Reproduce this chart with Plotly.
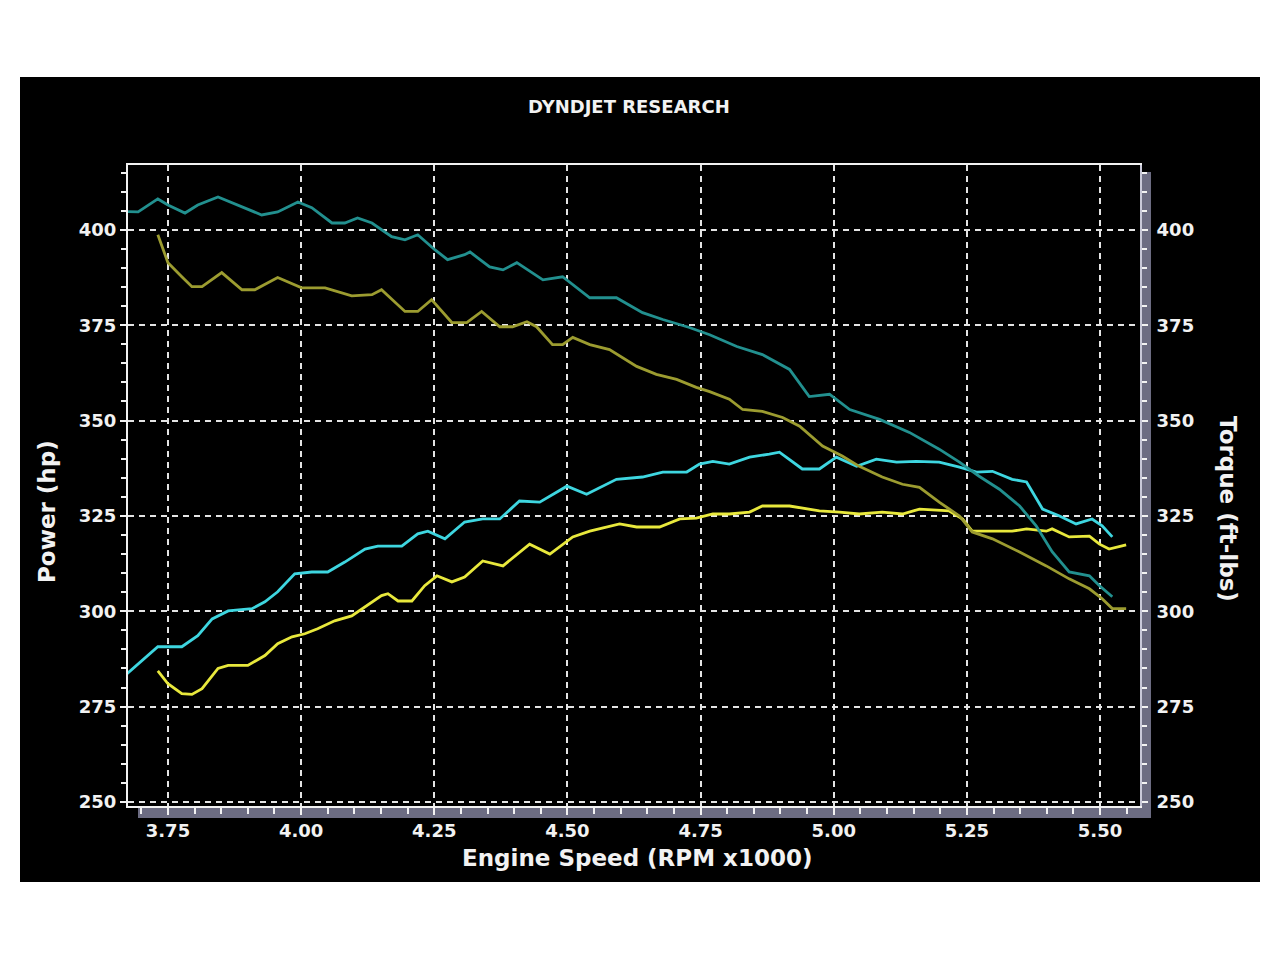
import plotly.graph_objects as go

# ---------------- data ----------------
# Torque run A (dark teal), ft-lbs
tq_a_rpm = [3.669, 3.694, 3.731, 3.750, 3.782, 3.806, 3.844, 3.881, 3.926, 3.956, 3.994, 4.020,
            4.058, 4.082, 4.106, 4.133, 4.170, 4.195, 4.219, 4.251, 4.275, 4.307, 4.317, 4.354,
            4.379, 4.405, 4.454, 4.491, 4.542, 4.592, 4.641, 4.679, 4.729, 4.767, 4.818, 4.866,
            4.917, 4.954, 4.992, 5.030, 5.086, 5.142, 5.198, 5.236, 5.273, 5.311, 5.349, 5.380,
            5.410, 5.442, 5.480, 5.499, 5.523]
tq_a_val = [404.8, 404.7, 408.1, 406.5, 404.4, 406.5, 408.6, 406.5, 403.9, 404.7, 407.3, 405.8,
            401.8, 401.8, 403.1, 401.8, 398.2, 397.4, 398.7, 394.8, 392.2, 393.5, 394.2, 390.3,
            389.5, 391.4, 386.9, 387.7, 382.2, 382.2, 378.3, 376.5, 374.4, 372.5, 369.4, 367.3,
            363.4, 356.3, 356.9, 352.9, 350.3, 346.9, 342.5, 339.1, 335.4, 332.0, 327.6, 322.4,
            315.6, 310.3, 309.3, 306.7, 303.8]

# Torque run B (olive), ft-lbs
tq_b_rpm = [3.731, 3.750, 3.776, 3.795, 3.814, 3.851, 3.889, 3.913, 3.956, 4.001, 4.045, 4.095,
            4.133, 4.151, 4.195, 4.219, 4.245, 4.283, 4.311, 4.339, 4.373, 4.397, 4.424, 4.442,
            4.472, 4.491, 4.510, 4.542, 4.579, 4.630, 4.667, 4.705, 4.742, 4.767, 4.804, 4.829,
            4.866, 4.904, 4.936, 4.979, 5.016, 5.048, 5.091, 5.129, 5.161, 5.198, 5.236, 5.260,
            5.298, 5.348, 5.399, 5.442, 5.480, 5.504, 5.523, 5.549]
tq_b_val = [398.7, 391.4, 387.7, 385.1, 385.1, 388.8, 384.3, 384.3, 387.5, 384.8, 384.8, 382.7,
            383.0, 384.3, 378.6, 378.6, 381.7, 375.7, 375.7, 378.6, 374.6, 374.6, 375.9, 374.6,
            369.9, 369.9, 371.8, 369.9, 368.6, 364.2, 362.1, 360.8, 358.7, 357.6, 355.6, 352.9,
            352.4, 350.8, 348.5, 343.3, 340.7, 338.0, 335.2, 333.3, 332.5, 328.6, 325.0, 320.8,
            319.0, 315.6, 311.9, 308.5, 305.9, 303.3, 300.7, 300.7]

# Power run A (cyan), hp
hp_a_rpm = [3.669, 3.701, 3.731, 3.776, 3.806, 3.833, 3.863, 3.908, 3.932, 3.956, 3.988, 4.020,
            4.050, 4.082, 4.120, 4.144, 4.189, 4.219, 4.238, 4.270, 4.307, 4.341, 4.373, 4.410,
            4.448, 4.499, 4.536, 4.592, 4.641, 4.679, 4.724, 4.748, 4.773, 4.804, 4.842, 4.879,
            4.898, 4.941, 4.973, 5.005, 5.043, 5.080, 5.118, 5.155, 5.198, 5.236, 5.268, 5.298,
            5.335, 5.362, 5.392, 5.424, 5.455, 5.485, 5.504, 5.523]
hp_a_val = [283.1, 287.1, 290.7, 290.7, 293.6, 298.0, 300.1, 300.7, 302.5, 305.1, 309.8, 310.3,
            310.3, 312.9, 316.3, 317.1, 317.1, 320.3, 321.0, 319.0, 323.4, 324.2, 324.2, 328.9,
            328.6, 332.8, 330.7, 334.6, 335.2, 336.5, 336.5, 338.6, 339.3, 338.6, 340.4, 341.2,
            341.7, 337.3, 337.3, 340.4, 338.0, 339.9, 339.1, 339.3, 339.1, 337.8, 336.5, 336.7,
            334.6, 333.9, 326.8, 325.0, 322.9, 324.2, 322.4, 319.5]

# Power run B (yellow), hp
hp_b_rpm = [3.731, 3.750, 3.776, 3.795, 3.814, 3.844, 3.863, 3.900, 3.932, 3.956, 3.983, 4.007,
            4.031, 4.063, 4.095, 4.120, 4.151, 4.163, 4.182, 4.208, 4.232, 4.255, 4.283, 4.307,
            4.341, 4.379, 4.429, 4.467, 4.510, 4.542, 4.598, 4.630, 4.673, 4.711, 4.742, 4.773,
            4.804, 4.842, 4.866, 4.917, 4.973, 5.011, 5.048, 5.091, 5.129, 5.161, 5.217, 5.242,
            5.260, 5.298, 5.335, 5.362, 5.399, 5.410, 5.442, 5.480, 5.499, 5.517, 5.536, 5.549]
hp_b_val = [284.4, 281.0, 278.4, 278.2, 279.7, 285.0, 285.8, 285.8, 288.4, 291.5, 293.3, 294.1,
            295.4, 297.5, 298.8, 301.2, 304.1, 304.6, 302.7, 302.7, 306.7, 309.3, 307.7, 309.0,
            313.2, 311.9, 317.6, 315.0, 319.5, 321.0, 322.9, 322.1, 322.1, 324.2, 324.4, 325.5,
            325.5, 326.0, 327.6, 327.6, 326.3, 326.0, 325.5, 326.0, 325.5, 326.8, 326.3, 324.2,
            321.0, 321.0, 321.0, 321.6, 321.0, 321.6, 319.5, 319.7, 317.6, 316.3, 316.9, 317.4]

x_ticks = [3.75, 4.00, 4.25, 4.50, 4.75, 5.00, 5.25, 5.50]
x_tick_text = ["3.75", "4.00", "4.25", "4.50", "4.75", "5.00", "5.25", "5.50"]
y_ticks = [250, 275, 300, 325, 350, 375, 400]
y_tick_text = ["250", "275", "300", "325", "350", "375", "400"]

# ---------------- figure ----------------
W, H = 1280, 959
L, R, T, B = 128, 1140, 165, 806
pw, ph = R - L, B - T

FONT = "DejaVu Sans"
WHITE = "#f2f2f2"
GRID = "#e4e4e4"
BAND = "#6c6c82"

fig = go.Figure()
fig.add_trace(go.Scatter(x=tq_b_rpm, y=tq_b_val, mode="lines", yaxis="y2",
                         line=dict(color="#9c9c30", width=2.8), name="Torque B"))
fig.add_trace(go.Scatter(x=tq_a_rpm, y=tq_a_val, mode="lines", yaxis="y2",
                         line=dict(color="#22908f", width=2.8), name="Torque A"))
fig.add_trace(go.Scatter(x=hp_b_rpm, y=hp_b_val, mode="lines",
                         line=dict(color="#e8e83c", width=2.8), name="Power B"))
fig.add_trace(go.Scatter(x=hp_a_rpm, y=hp_a_val, mode="lines",
                         line=dict(color="#3ed6e0", width=2.8), name="Power A"))

yr = [248.95, 417.0]
xr = [3.675, 5.575]
tickfont = dict(family=FONT, size=18, color=WHITE, weight="bold")

fig.update_layout(
    width=W, height=H,
    margin=dict(l=L, r=W - R, t=T, b=H - B, pad=0),
    paper_bgcolor="white", plot_bgcolor="black",
    showlegend=False,
    xaxis=dict(range=xr, tickvals=x_ticks, ticktext=x_tick_text, tickfont=tickfont,
               showgrid=True, gridcolor=GRID, gridwidth=2, griddash="6px,5px",
               showline=True, linecolor=WHITE, linewidth=2, mirror=True,
               ticks="outside", ticklen=7, tickwidth=2, tickcolor=WHITE,
               minor=dict(dtick=0.05, ticks="outside", ticklen=6, tickwidth=1.5,
                          tickcolor=WHITE, showgrid=False),
               zeroline=False, fixedrange=True),
    yaxis=dict(range=yr, tickvals=y_ticks, ticktext=y_tick_text, tickfont=tickfont,
               showgrid=True, gridcolor=GRID, gridwidth=2, griddash="6px,5px",
               showline=True, linecolor=WHITE, linewidth=2,
               ticks="outside", ticklen=6, tickwidth=2, tickcolor=WHITE,
               minor=dict(dtick=5, ticks="outside", ticklen=5, tickwidth=1.5,
                          tickcolor=WHITE, showgrid=False),
               zeroline=False, fixedrange=True),
    yaxis2=dict(range=yr, tickvals=y_ticks, ticktext=y_tick_text, tickfont=tickfont,
                overlaying="y", side="right", showgrid=False,
                showline=True, linecolor="#c8c8d8", linewidth=2,
                ticks="outside", ticklen=6, tickwidth=2, tickcolor=WHITE,
                ticklabelstandoff=5,
                minor=dict(dtick=5, ticks="outside", ticklen=5, tickwidth=1.5,
                           tickcolor=WHITE, showgrid=False),
                zeroline=False, fixedrange=True),
)

def px_x(p):
    return (p - L) / pw

def px_y(p):
    return (B - p) / ph

shapes = [
    # black image area
    dict(type="rect", xref="paper", yref="paper", layer="below",
         x0=px_x(20), x1=px_x(1260), y0=px_y(882), y1=px_y(77),
         fillcolor="black", line=dict(width=0)),
    # right grey band
    dict(type="rect", xref="paper", yref="paper", layer="below",
         x0=px_x(1140), x1=px_x(1151), y0=px_y(818), y1=px_y(172),
         fillcolor=BAND, line=dict(width=0)),
    # bottom grey band
    dict(type="rect", xref="paper", yref="paper", layer="below",
         x0=px_x(138), x1=px_x(1151), y0=px_y(818), y1=px_y(806),
         fillcolor=BAND, line=dict(width=0)),
]
fig.update_layout(shapes=shapes)

def ann(text, x, y, size, angle=0):
    return dict(text=text, x=px_x(x), y=px_y(y), xref="paper", yref="paper",
                xanchor="center", yanchor="middle", showarrow=False, textangle=angle,
                font=dict(family=FONT, size=size, color=WHITE, weight="bold"))

annotations = [
    ann("DYNDJET RESEARCH", 629, 106, 18),
    ann("Engine Speed (RPM x1000)", 637, 858, 23),
    ann("Power (hp)", 47, 512, 23, -90),
    ann("Torque (ft-lbs)", 1228, 509, 23, 90),
]
fig.update_layout(annotations=annotations)

fig.write_html("out.html", config={"displayModeBar": False},
               post_script="document.body.style.margin='0px';document.body.style.overflow='hidden';")
